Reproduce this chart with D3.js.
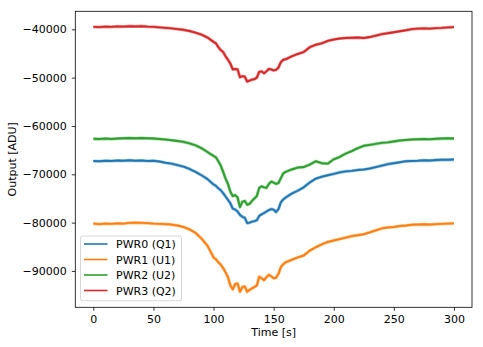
<!DOCTYPE html>
<html><head><meta charset="utf-8">
<script src="https://cdn.jsdelivr.net/npm/d3@7"></script>
<style>
body{margin:0;background:#fff;}
svg text{font-family:"DejaVu Sans",sans-serif;}
</style></head>
<body><svg id="c" width="483" height="347"></svg>
<script>
const seriesNames = ["PWR0 (Q1)","PWR1 (U1)","PWR2 (U2)","PWR3 (Q2)"];
const colors = ["#1f77b4","#ff7f0e","#2ca02c","#d62728"];
const xTicks = [0,50,100,150,200,250,300];
const yTicks = [-90000,-80000,-70000,-60000,-50000,-40000];
const time = [0,5,10,15,20,25,30,35,40,45,50,55,60,65,70,75,80,85,90,95,
  100,102,104,106,108,110,112,114,116,118,120,122,124,126,128,130,132,134,136,138,140,142,144,146,148,150,152,154,156,158,160,
  165,170,175,180,185,190,195,200,205,210,215,220,225,230,235,240,245,250,255,260,265,270,275,280,285,290,295,300];
const pwr0 = [-67250,-67300,-67200,-67250,-67150,-67200,-67100,-67200,-67150,-67250,-67200,-67350,-67600,-67800,-68100,-68400,-68900,-69500,-70200,-71000,
  -72100,-72400,-72900,-73300,-73900,-74600,-75300,-76000,-77100,-77300,-77700,-78400,-78800,-79000,-80100,-80000,-79800,-79700,-79500,-78600,-78300,-78000,-77700,-77400,-77200,-77300,-77800,-77200,-75800,-75200,-74800,
  -74000,-73400,-72700,-71700,-70900,-70500,-70200,-69900,-69600,-69400,-69300,-69100,-69000,-68800,-68500,-68200,-67900,-67700,-67500,-67300,-67250,-67200,-67100,-67150,-67050,-67000,-67000,-66950];
const pwr1 = [-80200,-80300,-80200,-80250,-80150,-80200,-80050,-80000,-80050,-80100,-80200,-80250,-80300,-80400,-80600,-80900,-81400,-82100,-83300,-84800,
  -87200,-87600,-88200,-88700,-89400,-90300,-91300,-93000,-93800,-92700,-92600,-94300,-93300,-93200,-94300,-93900,-93600,-93300,-93000,-91200,-91500,-91900,-91300,-90800,-91100,-91500,-91400,-90600,-89200,-88600,-88200,
  -87700,-87200,-86800,-85800,-85100,-84500,-84000,-83700,-83400,-83100,-82800,-82600,-82400,-82000,-81600,-81200,-81000,-80900,-80700,-80600,-80450,-80400,-80350,-80400,-80300,-80250,-80200,-80150];
const pwr2 = [-62650,-62700,-62600,-62700,-62600,-62550,-62500,-62550,-62500,-62550,-62600,-62700,-62800,-62950,-63100,-63300,-63600,-64000,-64600,-65400,
  -66200,-66500,-67300,-68200,-69500,-70900,-72000,-73600,-74500,-74300,-74800,-76800,-75700,-75500,-76300,-76100,-75500,-75000,-74500,-72800,-72500,-72700,-72800,-72000,-71500,-71700,-72000,-71800,-70800,-69800,-69500,
  -69000,-68600,-68500,-68000,-67300,-67700,-67800,-66900,-66400,-65700,-65200,-64600,-64100,-63900,-63700,-63500,-63400,-63200,-63000,-62900,-62800,-62750,-62700,-62750,-62650,-62600,-62550,-62600];
const pwr3 = [-39500,-39550,-39450,-39500,-39400,-39450,-39350,-39400,-39350,-39450,-39500,-39600,-39700,-39800,-39950,-40100,-40350,-40700,-41100,-41700,
  -42600,-42900,-43700,-44300,-44700,-45600,-46300,-47100,-48300,-48200,-48300,-49900,-49700,-49800,-50800,-50600,-50400,-50300,-50000,-48800,-48700,-49100,-48700,-48200,-48300,-48500,-48400,-47900,-46800,-46300,-46200,
  -45600,-45100,-44700,-43700,-43200,-42900,-42400,-42100,-41900,-41800,-41750,-41700,-41800,-41600,-41300,-41000,-40800,-40600,-40400,-40200,-39950,-39850,-39800,-39850,-39750,-39700,-39600,-39550];
const allSeries = [pwr0,pwr1,pwr2,pwr3];

const svg = d3.select("#c");
const L=75.3, R=472, T=11.3, B=307.3;
const x = d3.scaleLinear().domain([-15,315]).range([L,R]);
const y = d3.scaleLinear().domain([-97520,-36270]).range([B,T]);

const line = d3.line().x((d,i)=>x(time[i])).y(d=>y(d));
allSeries.forEach((s,k)=>{
  svg.append("path").datum(s).attr("d",line).attr("fill","none")
    .attr("stroke",colors[k]).attr("stroke-width",3.2).attr("stroke-opacity",0.45).attr("stroke-linejoin","round");
  svg.append("path").datum(s).attr("d",line).attr("fill","none")
    .attr("stroke",colors[k]).attr("stroke-width",1.9).attr("stroke-linejoin","round");
});

const xa = svg.append("g").attr("transform",`translate(0,${B})`)
  .call(d3.axisBottom(x).tickValues(xTicks).tickSize(3.5).tickPadding(4.5).tickFormat(d3.format("d")));
const ya = svg.append("g").attr("transform",`translate(${L},0)`)
  .call(d3.axisLeft(y).tickValues(yTicks).tickSize(3.5).tickPadding(5).tickFormat(d3.format("d")));
[xa,ya].forEach(a=>{
  a.select(".domain").remove();
  a.selectAll("text").attr("font-size",11).attr("fill","#000").attr("font-family","DejaVu Sans");
  a.selectAll("line").attr("stroke","#000").attr("stroke-width",0.8);
});
svg.append("rect").attr("x",L).attr("y",T).attr("width",R-L).attr("height",B-T)
  .attr("fill","none").attr("stroke","#000").attr("stroke-width",0.8);

svg.append("text").attr("x",(L+R)/2).attr("y",336).attr("text-anchor","middle")
  .attr("font-size",11).text("Time [s]");
svg.append("text").attr("transform",`translate(16,${(T+B)/2}) rotate(-90)`).attr("text-anchor","middle")
  .attr("font-size",11).text("Output [ADU]");

const lg = svg.append("g");
lg.append("rect").attr("x",80.5).attr("y",236).attr("width",101).attr("height",64.7).attr("rx",2)
  .attr("fill","#fff").attr("fill-opacity",0.8).attr("stroke","#ccc").attr("stroke-width",0.8);
seriesNames.forEach((n,k)=>{
  const yy = 244 + k*15.5;
  lg.append("line").attr("x1",84).attr("x2",107.5).attr("y1",yy).attr("y2",yy)
    .attr("stroke",colors[k]).attr("stroke-width",1.6);
  lg.append("text").attr("x",116).attr("y",yy+4).attr("font-size",11).text(n);
});
</script></body></html>
